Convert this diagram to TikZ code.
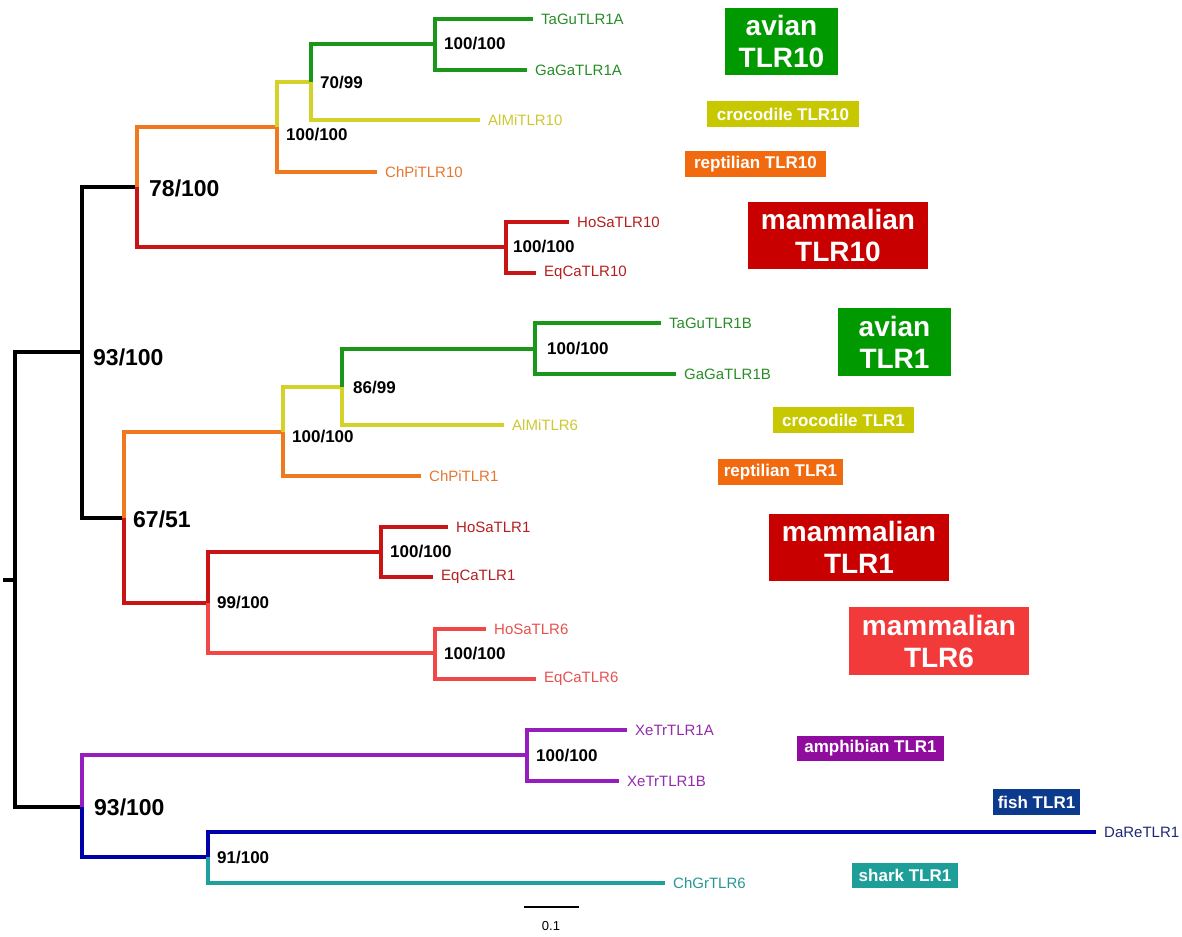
\documentclass[tikz,border=0pt]{standalone}
\usepackage{fontspec}
\setmainfont{Liberation Sans}
\definecolor{cgreen}{RGB}{26,150,26}
\definecolor{tgreen}{RGB}{40,140,40}
\definecolor{cyellow}{RGB}{212,210,40}
\definecolor{tyellow}{RGB}{205,200,50}
\definecolor{corange}{RGB}{240,120,30}
\definecolor{torange}{RGB}{228,120,50}
\definecolor{cred}{RGB}{200,20,20}
\definecolor{tred}{RGB}{180,30,30}
\definecolor{clred}{RGB}{240,72,72}
\definecolor{tlred}{RGB}{232,80,80}
\definecolor{cpurple}{RGB}{150,30,190}
\definecolor{tpurple}{RGB}{145,45,170}
\definecolor{cblue}{RGB}{0,0,170}
\definecolor{tblue}{RGB}{30,40,120}
\definecolor{cteal}{RGB}{30,160,160}
\definecolor{tteal}{RGB}{40,150,150}
\definecolor{bgreen}{RGB}{0,153,0}
\definecolor{byellow}{RGB}{200,200,0}
\definecolor{borange}{RGB}{242,106,16}
\definecolor{bred}{RGB}{200,0,0}
\definecolor{blred}{RGB}{242,58,58}
\definecolor{bpurple}{RGB}{144,12,158}
\definecolor{bnavy}{RGB}{12,58,140}
\definecolor{bteal}{RGB}{30,158,152}
\begin{document}
\begin{tikzpicture}[x=1pt,y=-1pt,
  br/.style={line width=3.2pt, line join=miter, draw=#1},
  leaf/.style={anchor=west, inner xsep=8pt, inner ysep=0pt, text=#1, font=\fontsize{15}{18}\selectfont},
  bs/.style={anchor=west, inner sep=0pt, font=\bfseries\fontsize{17}{20}\selectfont},
  bsl/.style={anchor=west, inner sep=0pt, font=\bfseries\fontsize{23}{26}\selectfont},
  boxs/.style={fill=#1, text=white, inner sep=0pt, align=center, font=\bfseries\fontsize{17}{20}\selectfont},
  boxl/.style={fill=#1, text=white, inner sep=0pt, align=center, font=\bfseries\fontsize{28}{32}\selectfont}]
\useasboundingbox (0,0) rectangle (1182,936);
% internal nodes
\coordinate (tick) at (3,580);
\coordinate (r) at (15,580);
\coordinate (n93a) at (82,352);
\coordinate (n78) at (137,187);
\coordinate (nRep10) at (277,127);
\coordinate (n7099) at (311,82);
\coordinate (nAv10) at (435,44);
\coordinate (nMam10) at (506,247);
\coordinate (n67) at (124,518);
\coordinate (nRep1) at (283,432);
\coordinate (n8699) at (342,387);
\coordinate (nAv1) at (535,349);
\coordinate (n99) at (208,603);
\coordinate (nMam1) at (381,552);
\coordinate (nMam6) at (435,653);
\coordinate (n93b) at (82,807);
\coordinate (nAmph) at (527,755);
\coordinate (n91) at (208,857);
% leaves
\node[leaf=tgreen] (l1) at (533,19) {TaGuTLR1A};
\node[leaf=tgreen] (l2) at (527,70) {GaGaTLR1A};
\node[leaf=tyellow] (l3) at (480,120) {AlMiTLR10};
\node[leaf=torange] (l4) at (377,172) {ChPiTLR10};
\node[leaf=tred] (l5) at (569,222) {HoSaTLR10};
\node[leaf=tred] (l6) at (536,273) {EqCaTLR10};
\node[leaf=tgreen] (l7) at (661,323) {TaGuTLR1B};
\node[leaf=tgreen] (l8) at (676,374) {GaGaTLR1B};
\node[leaf=tyellow] (l9) at (504,425) {AlMiTLR6};
\node[leaf=torange] (l10) at (421,476) {ChPiTLR1};
\node[leaf=tred] (l11) at (448,527) {HoSaTLR1};
\node[leaf=tred] (l12) at (433,577) {EqCaTLR1};
\node[leaf=tlred] (l13) at (486,629) {HoSaTLR6};
\node[leaf=tlred] (l14) at (536,679) {EqCaTLR6};
\node[leaf=tpurple] (l15) at (627,730) {XeTrTLR1A};
\node[leaf=tpurple] (l16) at (619,781) {XeTrTLR1B};
\node[leaf=tblue] (l17) at (1096,832) {DaReTLR1};
\node[leaf=tteal] (l18) at (665,883) {ChGrTLR6};
% branches
\draw[br=black] (tick) -- (r);
\draw[br=black] (r) |- (n93a);
\draw[br=black] (r) |- (n93b);
\draw[br=black] (n93a) |- (n78);
\draw[br=black] (n93a) |- (n67);
\draw[br=corange] (n78) |- (nRep10);
\draw[br=cred] (n78) |- (nMam10);
\draw[br=cyellow] (nRep10) |- (n7099);
\draw[br=corange] (nRep10) |- (l4.west);
\draw[br=cgreen] (n7099) |- (nAv10);
\draw[br=cyellow] (n7099) |- (l3.west);
\draw[br=cgreen] (nAv10) |- (l1.west);
\draw[br=cgreen] (nAv10) |- (l2.west);
\draw[br=cred] (nMam10) |- (l5.west);
\draw[br=cred] (nMam10) |- (l6.west);
\draw[br=corange] (n67) |- (nRep1);
\draw[br=cred] (n67) |- (n99);
\draw[br=cyellow] (nRep1) |- (n8699);
\draw[br=corange] (nRep1) |- (l10.west);
\draw[br=cgreen] (n8699) |- (nAv1);
\draw[br=cyellow] (n8699) |- (l9.west);
\draw[br=cgreen] (nAv1) |- (l7.west);
\draw[br=cgreen] (nAv1) |- (l8.west);
\draw[br=cred] (n99) |- (nMam1);
\draw[br=clred] (n99) |- (nMam6);
\draw[br=cred] (nMam1) |- (l11.west);
\draw[br=cred] (nMam1) |- (l12.west);
\draw[br=clred] (nMam6) |- (l13.west);
\draw[br=clred] (nMam6) |- (l14.west);
\draw[br=cpurple] (n93b) |- (nAmph);
\draw[br=cblue] (n93b) |- (n91);
\draw[br=cpurple] (nAmph) |- (l15.west);
\draw[br=cpurple] (nAmph) |- (l16.west);
\draw[br=cblue] (n91) |- (l17.west);
\draw[br=cteal] (n91) |- (l18.west);
% support values
\node[bs] (s1) at (444,44) {100/100};
\node[bs] (s2) at (320,83) {70/99};
\node[bs] (s3) at (286,135) {100/100};
\node[bsl] (s4) at (149,188) {78/100};
\node[bs] (s5) at (513,247) {100/100};
\node[bsl] (s6) at (93,357) {93/100};
\node[bs] (s7) at (547,349) {100/100};
\node[bs] (s8) at (353,388) {86/99};
\node[bs] (s9) at (292,437) {100/100};
\node[bsl] (s10) at (133,519) {67/51};
\node[bs] (s11) at (390,552) {100/100};
\node[bs] (s12) at (217,603) {99/100};
\node[bs] (s13) at (444,654) {100/100};
\node[bs] (s14) at (536,756) {100/100};
\node[bsl] (s15) at (94,807) {93/100};
\node[bs] (s16) at (217,857) {91/100};
% group boxes
\node[boxl=bgreen, minimum width=113pt, minimum height=67pt] (g1) at (781.5,41.5) {avian\\TLR10};
\node[boxs=byellow, minimum width=152pt, minimum height=26pt] (g2) at (783,114) {crocodile TLR10};
\node[boxs=borange, minimum width=141pt, minimum height=26pt] (g3) at (755.5,164) {reptilian TLR10};
\node[boxl=bred, minimum width=180pt, minimum height=67pt] (g4) at (838,235.5) {mammalian\\TLR10};
\node[boxl=bgreen, minimum width=113pt, minimum height=68pt] (g5) at (894.5,342) {avian\\TLR1};
\node[boxs=byellow, minimum width=141pt, minimum height=26pt] (g6) at (843.5,420) {crocodile TLR1};
\node[boxs=borange, minimum width=125pt, minimum height=26pt] (g7) at (780.5,472) {reptilian TLR1};
\node[boxl=bred, minimum width=180pt, minimum height=67pt] (g8) at (859,547.5) {mammalian\\TLR1};
\node[boxl=blred, minimum width=180pt, minimum height=68pt] (g9) at (939,641) {mammalian\\TLR6};
\node[boxs=bpurple, minimum width=147pt, minimum height=25pt] (g10) at (870.5,748.5) {amphibian TLR1};
\node[boxs=bnavy, minimum width=87pt, minimum height=26pt] (g11) at (1036.5,802) {fish TLR1};
\node[boxs=bteal, minimum width=106pt, minimum height=25pt] (g12) at (905,875.5) {shark TLR1};
% scale bar
\coordinate (sb1) at (524,907);
\coordinate (sb2) at (579,907);
\draw[line width=1.4pt] (sb1) -- (sb2);
\node[font=\fontsize{13}{15}\selectfont, inner sep=0pt] (sbl) at (551,926) {0.1};
\end{tikzpicture}
\end{document}
